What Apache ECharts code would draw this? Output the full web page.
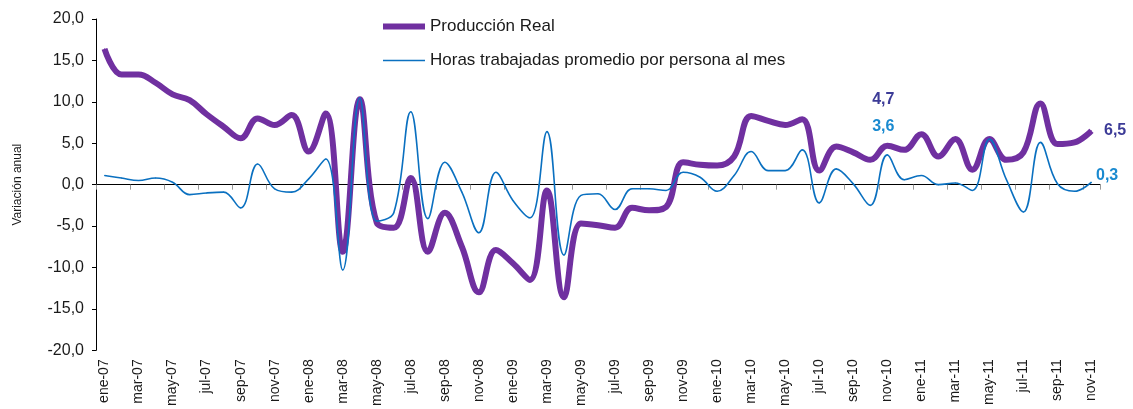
<!DOCTYPE html>
<html>
<head>
<meta charset="utf-8">
<script src="https://cdn.jsdelivr.net/npm/echarts@6/dist/echarts.min.js"></script>
<style>
  html, body { margin: 0; padding: 0; background: #fff; }
  #chart { width: 1133px; height: 409px; }
</style>
</head>
<body>
<div id="chart"></div>
<script>
// meses ene-07 .. nov-11
var meses = ['ene','feb','mar','abr','may','jun','jul','ago','sep','oct','nov','dic'];
var anios = ['07','08','09','10','11'];
var categorias = [];
anios.forEach(function (a) {
    meses.forEach(function (m) {
        if (categorias.length < 59) categorias.push(m + '-' + a);
    });
});

var produccionReal = [
    16.4, 13.3, 13.3, 12.3, 10.9, 10.2, 8.5, 7.0, 5.6, 8.0, 7.2, 8.4,
    4.0, 8.6, -8.1, 10.3, -4.6, -5.2, 0.8, -8.1, -3.4, -7.5, -13.0, -7.9,
    -9.5, -11.5, -0.7, -13.6, -4.7, -4.9, -5.2, -2.8, -3.1, -2.7, 2.7, 2.4,
    2.3, 3.4, 8.3, 7.7, 7.2, 7.9, 1.7, 4.6, 3.9, 3.0, 4.7, 4.2,
    6.1, 3.4, 5.5, 1.8, 5.5, 3.0, 3.9, 9.8, 4.9, 5.1, 6.5
];
var horasTrabajadas = [
    1.1, 0.8, 0.5, 0.8, 0.3, -1.2, -1.0, -0.9, -2.8, 2.5, -0.5, -0.9,
    0.7, 3.1, -10.3, 10.5, -4.4, -3.4, 8.8, -4.1, 2.7, -0.9, -5.8, 1.5,
    -1.9, -4.0, 6.4, -8.5, -1.3, -1.1, -3.0, -0.5, -0.5, -0.7, 1.5, 0.9,
    -0.8, 1.1, 4.0, 1.7, 1.7, 4.2, -2.2, 1.9, 0.1, -2.5, 3.6, 0.6,
    1.1, 0.0, 0.2, -0.7, 5.5, 0.6, -3.3, 5.1, 0.1, -0.8, 0.3
];
var ticksY = [-20, -15, -10, -5, 0, 5, 10, 15, 20];

var fuente = 'Liberation Sans, Arial, sans-serif';

function coma(v) {
    return v.toFixed(1).replace('.', ',');
}

// etiquetas de datos en nov-10 y nov-11
function conEtiquetas(valores, etiquetas, color) {
    return valores.map(function (v, i) {
        if (!etiquetas[i]) return v;
        return {
            value: v,
            label: Object.assign({
                show: true,
                color: color,
                fontFamily: fuente,
                fontWeight: 'bold',
                fontSize: 16,
                formatter: function (p) { return coma(p.value); }
            }, etiquetas[i])
        };
    });
}

var option = {
    backgroundColor: '#fff',
    animation: false,
    grid: { left: 96, right: 33, top: 19, bottom: 50 },
    legend: {
        orient: 'vertical',
        left: 378,
        top: 13,
        itemWidth: 42,
        itemHeight: 14,
        itemGap: 17,
        symbolKeepAspect: true,
        textStyle: { fontFamily: fuente, fontSize: 17, color: '#1a1a1a' },
        data: [
            { name: 'Producción Real', icon: 'path://M0,0L42,0L42,6L0,6Z' },
            { name: 'Horas trabajadas promedio por persona al mes', icon: 'path://M0,0L42,0L42,1.6L0,1.6Z' }
        ]
    },
    xAxis: [{
        type: 'category',
        data: categorias,
        boundaryGap: true,
        axisLine: { show: false, onZero: false },
        axisTick: { show: false },
        axisLabel: {
            interval: 1,
            rotate: 90,
            margin: 9,
            fontFamily: fuente,
            fontSize: 14,
            color: '#1a1a1a'
        }
    }, {
        type: 'category',
        data: categorias,
        boundaryGap: true,
        position: 'top',
        axisLine: { show: true, onZero: true, lineStyle: { color: '#000', width: 1 } },
        axisTick: { show: true, inside: true, interval: 1, length: 5, lineStyle: { color: '#999' } },
        axisLabel: { show: false }
    }],
    yAxis: {
        type: 'value',
        min: ticksY[0],
        max: ticksY[ticksY.length - 1],
        interval: 5,
        name: 'Variación anual',
        nameLocation: 'middle',
        nameGap: 72,
        nameTextStyle: { fontFamily: fuente, fontSize: 12, color: '#1a1a1a' },
        axisLine: { show: true, lineStyle: { color: '#000', width: 1 } },
        axisTick: { show: true, length: 4, lineStyle: { color: '#000' } },
        splitLine: { show: false },
        axisLabel: {
            margin: 12,
            fontFamily: fuente,
            fontSize: 16,
            color: '#1a1a1a',
            formatter: function (v) { return coma(v); }
        }
    },
    series: [{
        name: 'Producción Real',
        type: 'line',
        smooth: 0.4,
        symbol: 'circle',
        symbolSize: 1,
        showAllSymbol: true,
        itemStyle: { color: '#7030a0' },
        lineStyle: { color: '#7030a0', width: 6 },
        z: 2,
        data: conEtiquetas(produccionReal, {
            46: { position: 'top', distance: 38, offset: [-4, 0] },
            58: { position: 'right', distance: 12 }
        }, '#3c3b97')
    }, {
        name: 'Horas trabajadas promedio por persona al mes',
        type: 'line',
        smooth: 0.4,
        symbol: 'circle',
        symbolSize: 1,
        showAllSymbol: true,
        itemStyle: { color: '#0a70c0' },
        lineStyle: { color: '#0a70c0', width: 1.6 },
        z: 3,
        data: conEtiquetas(horasTrabajadas, {
            46: { position: 'top', distance: 20, offset: [-4, 0] },
            58: { position: 'right', distance: 4, offset: [0, -7] }
        }, '#1a8ad0')
    }]
};

var myChart = echarts.init(document.getElementById('chart'));
myChart.setOption(option);
</script>
</body>
</html>
